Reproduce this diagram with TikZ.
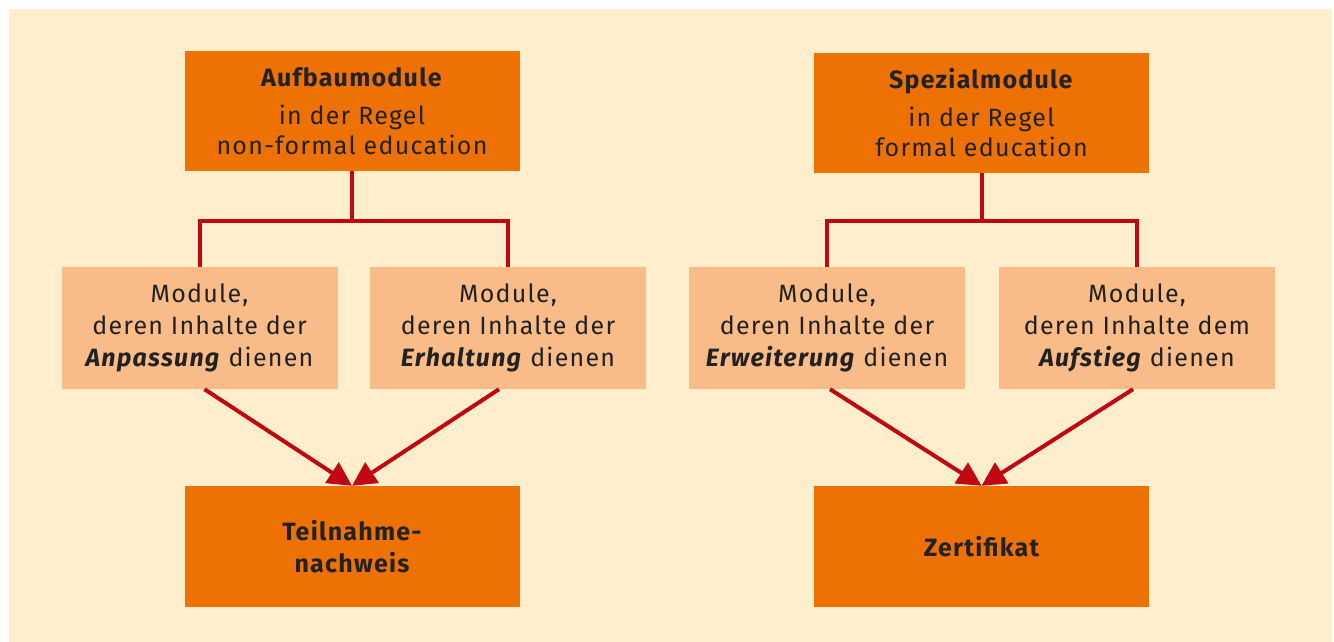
\documentclass[tikz,border=0pt]{standalone}
\usepackage{fontspec}
\setmainfont{Fira Sans}[LetterSpace=5]
\usetikzlibrary{arrows.meta,calc}
\definecolor{cream}{HTML}{FFEECC}
\definecolor{orangeD}{HTML}{EE7203}
\definecolor{orangeL}{HTML}{F9BB88}
\definecolor{lineRed}{HTML}{C1070F}
\definecolor{txt}{HTML}{222222}
\begin{document}
\begin{tikzpicture}[x=1pt,y=-1pt,
  topbox/.style={fill=orangeD,draw=none,minimum width=335pt,minimum height=120pt,inner sep=0pt,align=center,text=txt,font=\fontsize{25}{30}\selectfont},
  midbox/.style={fill=orangeL,draw=none,minimum width=276pt,minimum height=122pt,inner sep=0pt,align=center,text=txt,font=\fontsize{25}{32}\selectfont},
  botbox/.style={fill=orangeD,draw=none,minimum width=335pt,minimum height=121pt,inner sep=0pt,align=center,text=txt,font=\fontsize{25}{32}\selectfont\bfseries},
  conn/.style={draw=lineRed,line width=4pt},
  arr/.style={draw=lineRed,line width=4pt,-{Triangle[length=24pt,width=24pt]}}
]
\useasboundingbox (0,0) rectangle (1334,642);
\fill[cream] (9,9) rectangle (1332,642);

\node[topbox] (t1) at (352,111) {\textbf{Aufbaumodule}\\[8pt]in der Regel\\non-formal education};
\node[topbox] (t2) at (981.5,113) {\textbf{Spezialmodule}\\[8pt]in der Regel\\formal education};

\node[midbox] (m1) at (199.5,328) {Module,\\deren Inhalte der\\\textit{\textbf{Anpassung}} dienen};
\node[midbox] (m2) at (508,328) {Module,\\deren Inhalte der\\\textit{\textbf{Erhaltung}} dienen};
\node[midbox] (m3) at (827,328) {Module,\\deren Inhalte der\\\textit{\textbf{Erweiterung}} dienen};
\node[midbox] (m4) at (1137,328) {Module,\\deren Inhalte dem\\\textit{\textbf{Aufstieg}} dienen};

\node[botbox] (b1) at (352,546.5) {Teilnahme-\\nachweis};
\node[botbox] (b2) at (981.5,546.5) {Zertifikat};

\coordinate (j1) at (352,221);
\coordinate (j2) at (981.5,221);
\draw[conn] (t1.south) -- (j1) -| (m1.north);
\draw[conn] (j1) -| (m2.north);
\draw[conn] (t2.south) -- (j2) -| (m3.north);
\draw[conn] (j2) -| (m4.north);

\draw[arr] ([xshift=5pt]m1.south) -- (b1.north);
\draw[arr] ([xshift=-9pt]m2.south) -- (b1.north);
\draw[arr] ([xshift=3pt]m3.south) -- (b2.north);
\draw[arr] ([xshift=-4pt]m4.south) -- (b2.north);
\end{tikzpicture}
\end{document}
